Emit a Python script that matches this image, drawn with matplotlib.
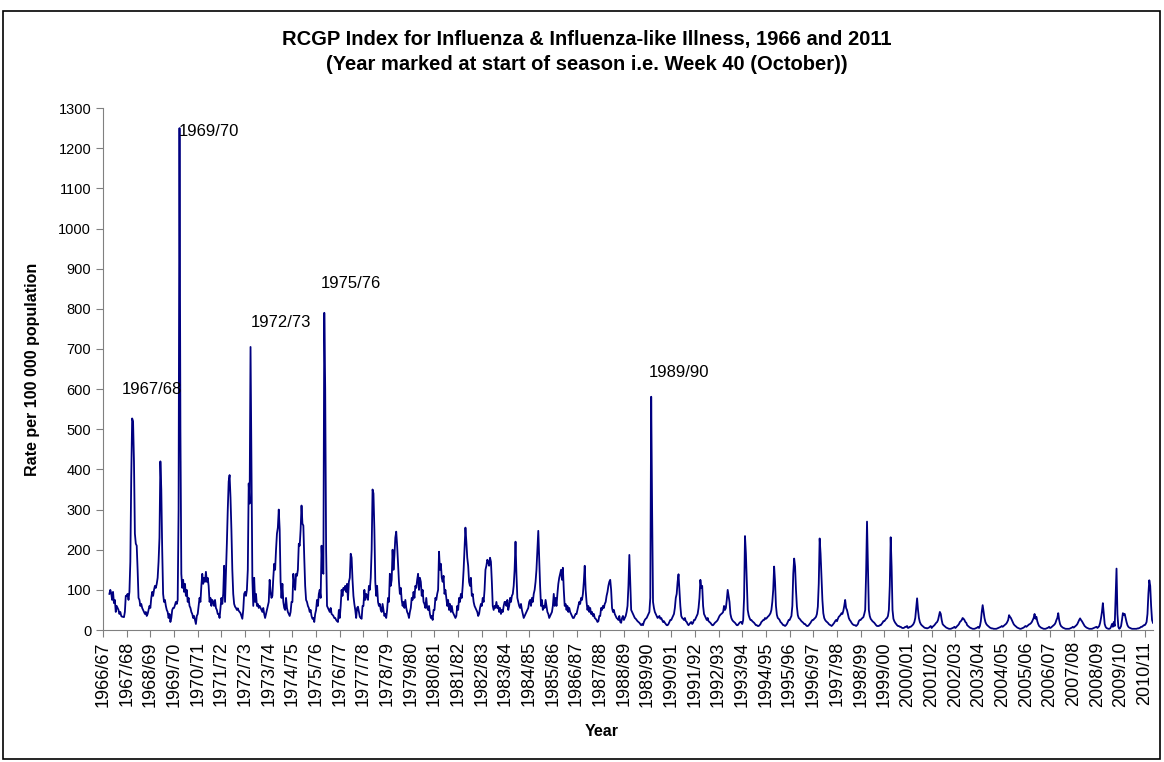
import numpy as np
import matplotlib.pyplot as plt
from matplotlib.patches import Rectangle

plt.rcParams['font.family'] = ['Liberation Sans', 'DejaVu Sans']

nan = np.nan

# one tick per season, starting at week 40 (October)
season_labels = [
    "1966/67", "1967/68", "1968/69", "1969/70", "1970/71", "1971/72", "1972/73",
    "1973/74", "1974/75", "1975/76", "1976/77", "1977/78", "1978/79", "1979/80",
    "1980/81", "1981/82", "1982/83", "1983/84", "1984/85", "1985/86", "1986/87",
    "1987/88", "1988/89", "1989/90", "1990/91", "1991/92", "1992/93", "1993/94",
    "1994/95", "1995/96", "1996/97", "1997/98", "1998/99", "1999/00", "2000/01",
    "2001/02", "2002/03", "2003/04", "2004/05", "2005/06", "2006/07", "2007/08",
    "2008/09", "2009/10", "2010/11",
]

# rate per 100 000, read every second week of each season
rates_1960s = [
    [nan, nan, nan, nan, nan, nan, nan, 90, 100, 92, 75, 95, 67, 75, 45, 60, 55, 50, 40, 45, 35, 33, 33, 32, 45, 85],
    [85, 90, 75, 95, 170, 380, 527, 520, 420, 240, 215, 210, 150, 80, 75, 60, 65, 55, 50, 45, 40, 45, 35, 40, 50, 60],
    [55, 80, 95, 85, 100, 110, 105, 115, 130, 170, 230, 420, 350, 200, 90, 70, 75, 60, 50, 45, 30, 40, 20, 30, 50, 55],
    [55, 62, 70, 65, 75, 300, 1250, 500, 140, 105, 125, 95, 115, 85, 100, 70, 80, 60, 55, 45, 40, 30, 35, 25, 15, 35],
]
rates_1970s = [
    [40, 60, 80, 70, 110, 140, 115, 130, 120, 145, 120, 130, 110, 70, 80, 60, 75, 70, 60, 75, 55, 50, 40, 40, 30, 55],
    [80, 65, 90, 160, 70, 140, 215, 300, 370, 386, 330, 250, 150, 90, 65, 58, 55, 50, 54, 48, 45, 42, 35, 28, 50, 90],
    [95, 85, 100, 150, 365, 315, 705, 420, 130, 60, 130, 70, 90, 60, 65, 55, 60, 55, 50, 45, 55, 40, 30, 40, 50, 60],
    [70, 125, 95, 80, 85, 130, 165, 150, 200, 240, 255, 300, 250, 120, 80, 115, 70, 55, 50, 80, 55, 45, 40, 35, 45, 70],
    [70, 140, 115, 100, 140, 135, 150, 215, 210, 250, 310, 265, 260, 180, 110, 75, 70, 60, 55, 45, 50, 35, 28, 30, 20, 40],
    [50, 75, 60, 90, 100, 80, 210, 150, 140, 790, 600, 200, 60, 55, 50, 45, 55, 40, 38, 35, 30, 30, 25, 22, 20, 50],
    [30, 60, 100, 85, 105, 100, 110, 95, 115, 75, 120, 130, 190, 180, 125, 85, 65, 50, 30, 55, 58, 45, 33, 30, 28, 60],
    [60, 100, 75, 90, 85, 75, 110, 100, 130, 200, 350, 340, 250, 120, 85, 110, 70, 60, 65, 50, 45, 65, 50, 35, 40, 30],
    [50, 80, 70, 140, 110, 125, 200, 150, 185, 230, 245, 210, 165, 120, 90, 105, 75, 60, 70, 55, 75, 55, 45, 40, 30, 45],
    [55, 80, 75, 95, 80, 110, 105, 125, 140, 100, 130, 120, 85, 100, 70, 65, 55, 80, 55, 50, 60, 40, 30, 35, 25, 50],
]
rates_1980s = [
    [50, 80, 75, 90, 100, 195, 150, 165, 130, 120, 135, 90, 100, 80, 60, 75, 50, 65, 45, 60, 45, 40, 35, 30, 35, 60],
    [50, 80, 70, 90, 80, 110, 150, 200, 255, 220, 180, 160, 120, 110, 130, 85, 90, 70, 60, 55, 50, 45, 35, 40, 55, 65],
    [60, 80, 70, 100, 150, 160, 175, 170, 160, 180, 170, 120, 60, 50, 60, 55, 70, 55, 60, 45, 55, 40, 50, 45, 60, 70],
    [70, 60, 75, 50, 60, 80, 70, 85, 90, 110, 150, 220, 140, 80, 70, 60, 55, 65, 50, 40, 30, 35, 40, 45, 50, 55],
    [70, 75, 60, 80, 70, 90, 100, 120, 150, 200, 247, 180, 110, 60, 75, 50, 60, 55, 75, 60, 45, 40, 30, 35, 40, 45],
    [60, 90, 60, 80, 60, 90, 115, 130, 140, 150, 125, 155, 100, 60, 65, 50, 60, 45, 55, 45, 40, 35, 30, 30, 35, 40],
    [40, 50, 60, 70, 65, 80, 75, 90, 120, 160, 100, 70, 50, 60, 45, 55, 40, 45, 35, 40, 30, 28, 25, 20, 22, 35],
    [35, 55, 50, 60, 55, 65, 70, 85, 95, 110, 120, 125, 100, 55, 45, 50, 40, 35, 30, 28, 25, 35, 20, 18, 30, 35],
    [25, 30, 35, 45, 60, 110, 187, 120, 50, 45, 40, 35, 30, 28, 25, 22, 20, 18, 15, 12, 15, 12, 20, 25, 28, 30],
    [35, 40, 45, 80, 581, 300, 70, 55, 45, 40, 35, 30, 32, 35, 28, 30, 25, 20, 22, 18, 15, 12, 12, 15, 20, 25],
]
rates_1990s = [
    [25, 30, 35, 40, 55, 80, 90, 120, 139, 100, 60, 35, 30, 28, 25, 30, 22, 20, 15, 12, 15, 18, 20, 15, 18, 25],
    [25, 30, 35, 40, 55, 80, 125, 105, 110, 60, 40, 35, 30, 25, 30, 22, 20, 18, 15, 12, 12, 15, 18, 20, 22, 25],
    [30, 35, 38, 40, 42, 45, 60, 50, 55, 75, 100, 85, 70, 40, 30, 25, 22, 20, 18, 15, 12, 12, 15, 18, 20, 20],
    [15, 25, 80, 234, 190, 120, 50, 37, 30, 25, 25, 22, 20, 18, 15, 12, 12, 10, 10, 12, 15, 20, 22, 25, 25, 30],
    [28, 30, 33, 35, 38, 42, 50, 70, 100, 158, 120, 60, 38, 30, 28, 25, 20, 18, 15, 12, 12, 10, 12, 15, 20, 25],
    [25, 30, 35, 60, 140, 178, 158, 100, 58, 37, 30, 28, 25, 22, 20, 18, 15, 15, 12, 10, 10, 12, 15, 18, 22, 25],
    [25, 28, 30, 33, 40, 58, 115, 228, 190, 135, 75, 42, 30, 25, 22, 20, 18, 15, 13, 12, 10, 12, 15, 18, 22, 25],
    [22, 28, 33, 35, 38, 42, 40, 48, 60, 75, 55, 50, 40, 30, 25, 22, 18, 15, 13, 12, 12, 10, 12, 15, 22, 25],
    [25, 28, 30, 32, 40, 50, 140, 270, 158, 50, 35, 28, 25, 22, 20, 18, 15, 12, 10, 10, 10, 12, 12, 15, 18, 22],
    [22, 25, 28, 30, 35, 50, 110, 231, 158, 50, 28, 22, 18, 15, 12, 10, 10, 8, 8, 6, 5, 5, 6, 8, 8, 10],
]
rates_2000s = [
    [5, 6, 8, 8, 10, 12, 15, 20, 30, 55, 79, 50, 30, 20, 15, 12, 10, 8, 6, 5, 5, 4, 5, 6, 8, 10],
    [5, 8, 10, 12, 15, 18, 20, 25, 35, 45, 40, 25, 15, 12, 10, 8, 6, 5, 4, 3, 3, 3, 4, 5, 6, 8],
    [5, 7, 10, 12, 15, 20, 22, 25, 30, 28, 25, 20, 18, 12, 10, 8, 6, 5, 4, 3, 3, 3, 4, 5, 6, 8],
    [5, 10, 22, 45, 62, 45, 30, 20, 15, 12, 10, 8, 6, 5, 4, 4, 3, 3, 3, 3, 4, 5, 6, 7, 8, 10],
    [8, 10, 12, 14, 16, 20, 25, 37, 33, 30, 25, 20, 15, 12, 10, 8, 6, 5, 4, 3, 3, 4, 5, 6, 8, 10],
    [8, 10, 12, 14, 15, 17, 20, 25, 30, 40, 28, 33, 22, 15, 10, 8, 6, 5, 4, 3, 3, 3, 4, 5, 6, 8],
    [5, 6, 8, 10, 12, 14, 18, 25, 30, 42, 25, 15, 10, 8, 6, 5, 4, 3, 3, 3, 3, 3, 4, 5, 6, 8],
    [6, 8, 10, 12, 15, 20, 25, 29, 25, 22, 18, 14, 10, 8, 6, 5, 4, 3, 3, 3, 3, 4, 5, 6, 7, 8],
    [5, 7, 10, 18, 30, 45, 67, 40, 15, 8, 5, 4, 3, 3, 4, 8, 15, 8, 20, 10, 80, 153, 40, 8, 3, 5],
    [10, 25, 42, 38, 40, 30, 20, 12, 8, 6, 5, 4, 3, 3, 3, 3, 3, 3, 4, 4, 5, 6, 8, 8, 10, 12],
    [12, 15, 20, 40, 90, 124, 110, 60, 25, 18],
]

# labelled epidemic seasons
peak_labels = ["1967/68", "1969/70", "1972/73", "1975/76", "1989/90"]
peak_label_x = [0.78, 3.22, 6.22, 9.2, 23.05]
peak_label_y = [600, 1242, 765, 864, 641]

pts_per_season = 26
rows = rates_1960s + rates_1970s + rates_1980s + rates_1990s + rates_2000s
x, y = [], []
for k, row in enumerate(rows):
    for i, v in enumerate(row):
        x.append(k + i / pts_per_season)
        y.append(v)

fig = plt.figure(figsize=(11.64, 7.62), dpi=100)
ax = fig.add_axes([0.0885, 0.1732, 0.902, 0.685])

ax.plot(x, y, color='#000080', lw=1.3)

ax.set_xlim(0, x[-1])
ax.set_ylim(0, 1300)
ax.set_yticks(range(0, 1301, 100))
ax.set_xticks(range(len(season_labels)))
ax.set_xticklabels(season_labels, rotation=90)
ax.tick_params(axis='y', labelsize=10.5, direction='out', length=5, color='#808080')
ax.tick_params(axis='x', labelsize=13, direction='out', length=5, color='#808080', pad=3)

for side in ['top', 'right']:
    ax.spines[side].set_visible(False)
for side in ['left', 'bottom']:
    ax.spines[side].set_color('#808080')

for lab, lx, ly in zip(peak_labels, peak_label_x, peak_label_y):
    ax.text(lx, ly, lab, ha='left', va='center', fontsize=12)

ax.set_xlabel("Year", fontsize=11.5, weight='bold')
ax.xaxis.set_label_coords(0.475, -0.18)
ax.set_ylabel("Rate per 100 000 population", fontsize=11.5, weight='bold')
ax.yaxis.set_label_coords(-0.06, 0.5)

fig.text(0.504, 1 - 40 / 762, "RCGP Index for Influenza & Influenza-like Illness, 1966 and 2011",
         ha='center', va='center', fontsize=14.5, weight='bold')
fig.text(0.504, 1 - 64 / 762, "(Year marked at start of season i.e. Week 40 (October))",
         ha='center', va='center', fontsize=14.5, weight='bold')

# chart-area border
fig.patches.append(Rectangle((3 / 1164, 3 / 762), 1157 / 1164, 748 / 762,
                             transform=fig.transFigure, fill=False, ec='black', lw=1.2))

fig.savefig("out.png", dpi=100)
